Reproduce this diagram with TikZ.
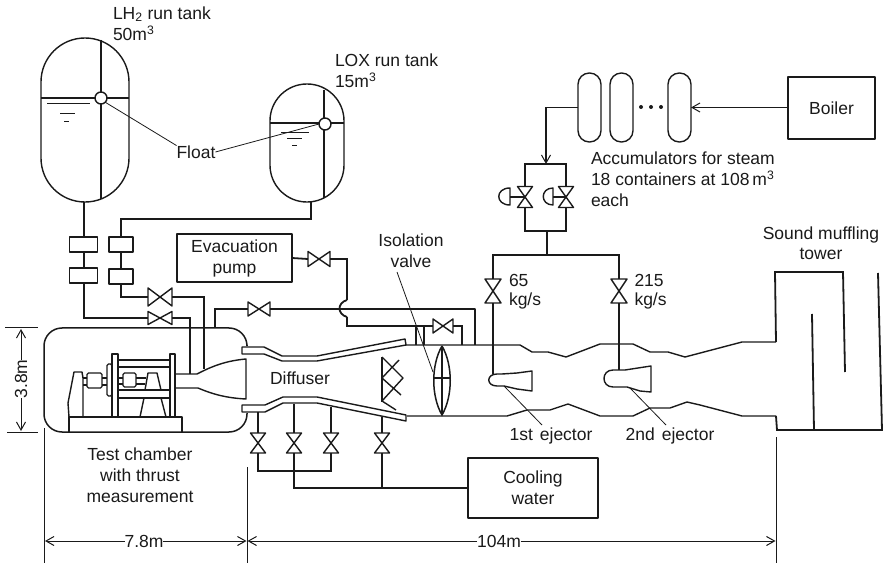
\documentclass[tikz,border=0pt]{standalone}
\usepackage{fontspec}
\setmainfont{Liberation Sans}
\usetikzlibrary{arrows.meta}
\definecolor{ink}{HTML}{1A1A1A}
\tikzset{
  lbl/.style={inner sep=0pt,outer sep=0pt,text=ink,font=\fontsize{17.5}{21}\selectfont,align=center},
  lbll/.style={lbl,align=left,anchor=west},
  thin line/.style={draw=ink,line width=0.8pt},
  med/.style={draw=ink,line width=1.4pt,line join=round},
  pipe/.style={draw=ink,line width=1.8pt,line join=miter},
  boxn/.style={med,inner sep=0pt,outer sep=0pt},
  tank/.style={med,inner sep=0pt,outer sep=0pt},
  floatc/.style={circle,med,fill=white,minimum size=12pt,inner sep=0pt,outer sep=0pt},
  vbody/.style={inner sep=0pt,outer sep=0pt},
  barb/.style={-{Straight Barb[length=8pt,width=9pt,line width=1pt]}},
  dim/.style={draw=ink,line width=1pt},
}
\newcommand{\hvalve}[5]{\node[vbody,minimum width=#4pt,minimum height=#5pt] (#1) at (#2,#3) {};
  \draw[med] (#1.north west)--(#1.south east)--(#1.north east)--(#1.south west)--cycle;}
\newcommand{\vvalve}[5]{\node[vbody,minimum width=#4pt,minimum height=#5pt] (#1) at (#2,#3) {};
  \draw[med] (#1.north west)--(#1.north east)--(#1.south west)--(#1.south east)--cycle;}
\begin{document}
\begin{tikzpicture}[x=1pt,y=-1pt]
\useasboundingbox (0,0) rectangle (887,564);
% tanks
\node[tank,minimum width=88pt,minimum height=164pt,rounded corners=43.9pt] (lh) at (85,120) {};
\node[tank,minimum width=74pt,minimum height=118pt,rounded corners=36.9pt] (lox) at (307,143) {};
\coordinate (lhT) at (101,40); \coordinate (lhB) at (101,199);
\coordinate (lhL) at (41,98); \coordinate (lhR) at (129,98);
\draw[med] (lhT)--(lhB); \draw[med] (lhL)--(lhR);
\draw[thin line] (47,103)--(90,103) (60,113)--(75,113) (64,121)--(69,121);
\node[floatc] (fl1) at (101,98) {};
\coordinate (loT) at (324,90); \coordinate (loB) at (324,198);
\coordinate (loL) at (270,123); \coordinate (loR) at (344,123);
\draw[med] (loT)--(loB); \draw[med] (loL)--(loR);
\draw[thin line] (281,132)--(309,132) (287,138)--(302,138) (292,145)--(297,145);
\node[floatc] (fl2) at (325,124) {};
\node[lbl] (flt) at (196,152) {Float};
\draw[thin line] (fl1.south east)--(flt.north west);
\draw[thin line] (flt.east)--(fl2.west);
\node[lbll] (t1) at (113,14) {LH\textsubscript{2} run tank};
\node[lbll] (t2) at (113,33) {50m\textsuperscript{3}};
\node[lbll] (t3) at (335,60) {LOX run tank};
\node[lbll] (t4) at (335,80) {15m\textsuperscript{3}};
% filter boxes
\node[boxn,minimum width=28pt,minimum height=15pt] (b1) at (83.5,244.5) {};
\node[boxn,minimum width=28pt,minimum height=15pt] (b2) at (83.5,275.5) {};
\node[boxn,minimum width=24pt,minimum height=15pt] (b3) at (121,244.5) {};
\node[boxn,minimum width=24pt,minimum height=15pt] (b4) at (121,276.5) {};
\coordinate (lhOut) at (84,202); \coordinate (loOut) at (311,202);
\draw[pipe] (lhOut)--(b1.north -| lhOut);
\draw[pipe] (loOut)--(311,219)--(121,219)--(b3.north);
\draw[pipe] (b1.south -| lhOut)--(b2.north -| lhOut);
\draw[pipe] (b3.south)--(b4.north);
% LH2/LOX valves
\hvalve{v1}{160}{297}{24}{18}
\hvalve{v2}{160}{318}{24}{13}
\coordinate (noz1) at (204,369); \coordinate (noz2) at (190,374);
\draw[pipe] (b4.south) |- (v1.west);
\draw[pipe] (b2.south -| lhOut) |- (v2.west);
\draw[pipe] (v1.east) -| (noz1);
\draw[pipe] (v2.east) -| (noz2);
% chamber
\draw[pipe,line width=1.5pt,rounded corners=18pt] (247,345)--(247,328)--(44,328)--(44,432)--(247,432)--(247,413);
% nozzle
\draw[med] (175,374)--(197,374) .. controls (207,369) and (222,361) .. (246,359)--(246,399)
  .. controls (226,398) and (212,394) .. (198,388)--(175,388);
% thrust stand
\draw[med] (69,432)--(69,417)--(182,417)--(182,432);
\draw[med] (69,417)--(68,403)--(74,372)--(82,372)--(83,378)--(83,417);
\draw[med,rounded corners=1.5pt] (87,373) rectangle (102,388);
\draw[med] (83,378)--(87,378) (83,385)--(87,385) (102,378)--(107,378) (102,385)--(107,385);
\draw[med,rounded corners=1.5pt] (107,364) rectangle (112,396);
\draw[med] (112,417)--(112,354)--(118,354)--(118,417);
\draw[med] (170,417)--(170,354)--(175,354)--(175,417);
\draw[med] (118,360)--(170,360) (118,367)--(170,367) (118,390)--(170,390) (118,398)--(170,398);
\draw[med,rounded corners=1.5pt] (123,373) rectangle (136,387);
\draw[med] (118,378)--(123,378) (118,384)--(123,384) (136,378)--(146,378) (136,384)--(145,384);
\draw[med] (145,390)--(148,373)--(157,373)--(161,390);
\draw[med] (140,417)--(144,398) (161,398)--(166,417);
% diffuser walls
\draw[med] (242,347)--(264,347)--(282,356)--(317,356)--(405,339)--(406,345)--(317,361)--(282,361)--(264,354)--(242,354)--cycle;
\draw[med] (242,405)--(265,405)--(283,397)--(317,397)--(406,415)--(406,421)--(317,403)--(283,403)--(265,412)--(242,412)--cycle;
\node[lbl] (dif) at (300,378) {Diffuser};
% duct
\draw[med] (405,345)--(520,345)--(532,352)--(548,352)--(566,357)--(600,344)--(633,344)--(650,352)--(668,352)--(685,357)--(742,342)--(776,342);
\draw[pipe] (776,342)--(775,272)--(843,272)--(845,372);
\draw[med] (407,416)--(507,416)--(527,410)--(550,410)--(568,404)--(600,416)--(633,416)--(650,408)--(670,408)--(687,402)--(700,405)--(742,416)--(776,416);
\draw[pipe] (776,416)--(777,430)--(882,430)--(878,273);
\draw[pipe] (814,430)--(812,314);
\node[lbl] (tow) at (821,243) {Sound muffling\\[-0.5pt]tower};
% evacuation
\node[boxn,minimum width=115pt,minimum height=48pt,lbl,draw=ink,line width=1.4pt] (evac) at (234.5,258) {Evacuation\\pump};
\hvalve{v3}{319}{259}{22}{15}
\hvalve{v4}{259}{309}{22}{14}
\hvalve{v5}{443}{326}{20}{14}
\coordinate (ch1) at (215,328);
\coordinate (up1) at (347,300); \coordinate (up2) at (347,317);
\coordinate (j1) at (475,309); \coordinate (d1) at (475,345);
\coordinate (d2) at (416,345); \coordinate (d3) at (424,345); \coordinate (d4) at (462,345);
\draw[pipe] (evac.east)--(v3.west);
\draw[pipe] (v3.east) -| (up1);
\draw[pipe] (up1) .. controls (337,303) and (337,314) .. (up2);
\draw[pipe] (up2)--(347,326)--(v5.west);
\draw[pipe] (d2)--(416,326);
\draw[pipe] (d3)--(424,326);
\draw[pipe] (v5.east)-|(d4);
\draw[pipe] (ch1)--(215,309)--(v4.west);
\draw[pipe] (v4.east)--(339,309);
\draw[med] (339,309)--(j1)--(d1);
% isolation valve
\node[lbl] (iso) at (411,250.5) {Isolation\\valve};
\draw[pipe,line width=1.5pt] (442,346) .. controls (431,365) and (431,396) .. (442,415) .. controls (453,396) and (453,365) .. (442,346);
\draw[pipe] (442,346)--(442,415);
\draw[med] (434,378)--(451,378);
\coordinate (isoL) at (433,372);
\draw[thin line] (397,272)--(isoL);
% grid
\draw[med] (382,357)--(382,402);
\draw[med] (382,357)--(403,378)--(382,401)--(396,410) (399,360)--(382,378)--(401,395);
% cooling
\vvalve{c1}{258}{443}{15}{20}
\vvalve{c2}{294}{443}{15}{20}
\vvalve{c3}{331}{443}{15}{20}
\vvalve{c4}{382}{443}{15}{20}
\node[boxn,minimum width=130pt,minimum height=60pt,lbl,draw=ink,line width=1.4pt] (cool) at (533,488) {Cooling\\water};
\draw[pipe] (258,412)--(c1.north);
\draw[pipe] (294,404)--(c2.north);
\draw[pipe] (331,407)--(c3.north);
\draw[pipe] (382,417)--(c4.north);
\draw[pipe] (c1.south)--(258,471)--(331,471)--(c3.south);
\draw[pipe] (c2.south)--(294,488)--(cool.west |- 294,488);
\draw[pipe] (c4.south)--(382,488);
% accumulators
\node[tank,minimum width=23pt,minimum height=69pt,rounded corners=11.4pt] (a1) at (589.5,107.5) {};
\node[tank,minimum width=23pt,minimum height=69pt,rounded corners=11.4pt] (a2) at (621.5,107.5) {};
\node[tank,minimum width=23pt,minimum height=69pt,rounded corners=11.4pt] (a3) at (679.5,107.5) {};
\fill[ink] (641,107) circle (2pt) (651,107) circle (2pt) (661,107) circle (2pt);
\node[boxn,minimum width=87pt,minimum height=62pt,lbl,draw=ink,line width=1.4pt] (boiler) at (831.5,108) {Boiler};
\draw[thin line,line width=1.1pt,barb] (boiler.west |- a3.east)--(a3.east);
\coordinate (top) at (546,164);
\draw[pipe,barb] (a1.west)--(546,107.5)--(top);
\node[lbll] (acc1) at (591,158) {Accumulators for steam};
\node[lbll] (acc2) at (591,178) {18 containers at 108\,m\textsuperscript{3}};
\node[lbll] (acc3) at (591,200) {each};
% steam valves
\vvalve{s1}{525}{197}{15}{21}
\vvalve{s2}{566}{197}{15}{21}
\draw[pipe] (s1.north)--(525,164)--(566,164)--(s2.north);
\coordinate (sj) at (547,231); \coordinate (sb) at (547,255);
\draw[pipe] (s1.south)--(525,231)--(566,231)--(s2.south);
\draw[pipe] (sj)--(sb);
\draw[med] (510,188) .. controls (495,188) and (495,205) .. (510,205)--cycle;
\draw[med] (553,188) .. controls (540,188) and (540,205) .. (553,205)--cycle;
\draw[med] (510,197)--(s1.center);
\draw[med] (553,197)--(s2.center);
% ejector feeds
\vvalve{e1}{493}{291}{16}{24}
\vvalve{e2}{619}{291}{16}{24}
\draw[pipe] (e1.north)--(493,255)--(619,255)--(e2.north);
\coordinate (ej1) at (493,374); \coordinate (ej2) at (619,370);
\draw[pipe] (e1.south)--(ej1);
\draw[pipe] (e2.south)--(ej2);
\node[lbll] (k1) at (509,280) {65};
\node[lbll] (k2) at (509,301) {kg/s};
\node[lbll] (k3) at (634.5,280) {215};
\node[lbll] (k4) at (634.5,301) {kg/s};
% ejectors
\draw[med,fill=white] (532,371)--(517,373)--(502,374)--(497,374) .. controls (486,374) and (486,386) .. (497,386)--(504,386)--(517,389)--(532,391)--cycle;
\draw[med,fill=white] (651,366)--(638,368)--(625,370)--(613,370) .. controls (601,370) and (601,387) .. (613,387)--(627,387)--(640,391)--(651,392)--cycle;
\node[lbl] (ej1t) at (551,436) {1st\hspace{0.4em}ejector};
\node[lbl] (ej2t) at (670,436) {2nd\hspace{0.4em}ejector};
\draw[thin line] (504,386)--(542,425);
\draw[thin line] (630,388)--(666,425);
% labels
\node[lbl] (tc) at (140,475) {Test chamber\\with thrust\\measurement};
% dimensions
\coordinate (h1) at (5,328); \coordinate (h2) at (38,328);
\coordinate (h3) at (7,432); \coordinate (h4) at (38,432);
\draw[dim] (h1)--(h2) (h3)--(h4);
\node[lbl,rotate=90] (d38) at (21,379) {3.8m};
\draw[dim,barb] (d38.east)--(21,329);
\draw[dim,barb] (d38.west)--(21,431);
\coordinate (x1a) at (44,428); \coordinate (x1b) at (44,563);
\coordinate (x2a) at (247,467); \coordinate (x2b) at (247,563);
\coordinate (x3a) at (776,437); \coordinate (x3b) at (776,563);
\draw[dim] (x1a)--(x1b) (x2a)--(x2b) (x3a)--(x3b);
\node[lbl] (d78) at (144,541) {7.8m};
\node[lbl] (d104) at (499,541) {104m};
\draw[dim,barb] (d78.west)--(45,541);
\draw[dim,barb] (d78.east)--(246.5,541);
\draw[dim,barb] (d104.west)--(247.5,541);
\draw[dim,barb] (d104.east)--(775.5,541);
\end{tikzpicture}
\end{document}
